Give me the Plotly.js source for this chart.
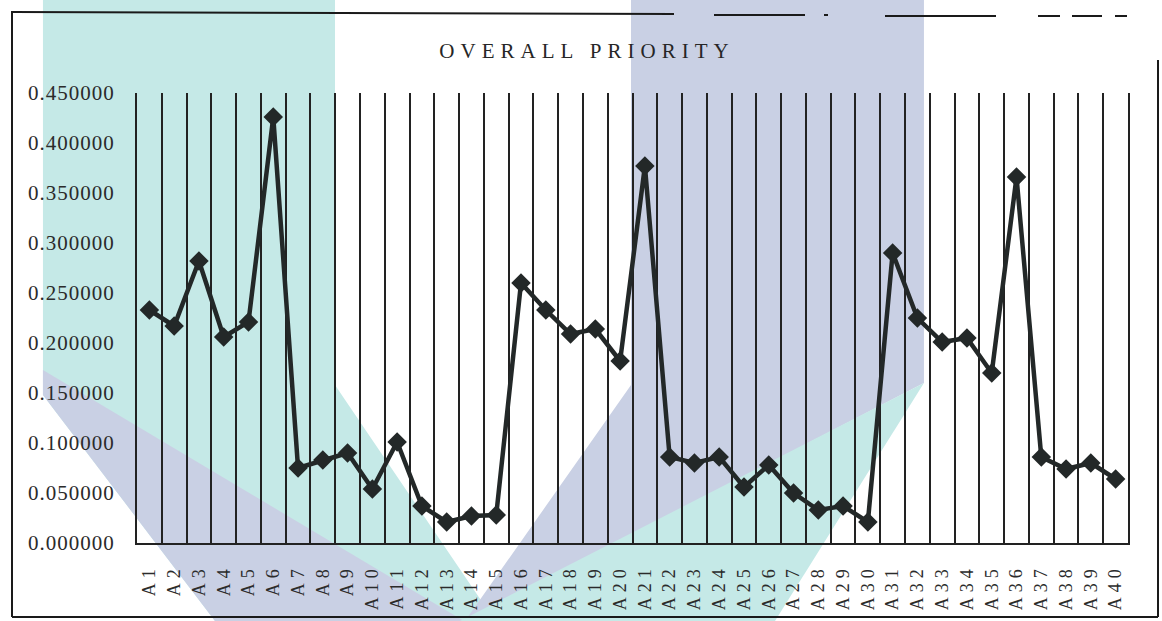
<!DOCTYPE html>
<html>
<head>
<meta charset="utf-8">
<script src="https://cdn.plot.ly/plotly-3.0.1.min.js"></script>
<style>
  html, body { margin: 0; padding: 0; background: #ffffff; }
  #chart { width: 1162px; height: 621px; }
  .xtick text { letter-spacing: 5px; }
  .ytick text { letter-spacing: 1px; }
  .gtitle { letter-spacing: 6px; }
</style>
</head>
<body>
<div id="chart"></div>
<script>
// ---- data ----
const categories = ["A1","A2","A3","A4","A5","A6","A7","A8","A9","A10",
  "A11","A12","A13","A14","A15","A16","A17","A18","A19","A20",
  "A21","A22","A23","A24","A25","A26","A27","A28","A29","A30",
  "A31","A32","A33","A34","A35","A36","A37","A38","A39","A40"];
const overallPriority = [0.233,0.217,0.282,0.206,0.221,0.426,0.075,0.083,0.090,0.054,
  0.101,0.037,0.021,0.027,0.028,0.260,0.233,0.209,0.214,0.182,
  0.377,0.086,0.080,0.086,0.056,0.078,0.050,0.033,0.037,0.021,
  0.290,0.225,0.201,0.205,0.170,0.366,0.086,0.074,0.080,0.064];
const yTickValues = [0,0.05,0.10,0.15,0.20,0.25,0.30,0.35,0.40,0.45];
const chartTitle = "OVERALL PRIORITY";

// ---- layout geometry ----
const W = 1162, H = 621;
const M = {l: 137, r: 34, t: 93, b: 78};
const PW = W - M.l - M.r, PH = H - M.t - M.b;
function px(x) { return (x - M.l) / PW; }
function py(y) { return (H - M.b - y) / PH; }
function poly(points) {
  return points.map((p, i) => (i ? "L" : "M") + px(p[0]).toFixed(4) + "," + py(p[1]).toFixed(4)).join(" ") + " Z";
}
function pathShape(points, color) {
  return {type: "path", xref: "paper", yref: "paper", layer: "below",
          path: poly(points), fillcolor: color, line: {width: 0}};
}
function lineShape(x0, y0, x1, y1, w) {
  return {type: "line", xref: "paper", yref: "paper", layer: "above",
          x0: px(x0), y0: py(y0), x1: px(x1), y1: py(y1),
          line: {color: "#1a1a1a", width: w || 2}};
}
const TEAL = "#c5e9e7", LAV = "#c9d0e4";

const shapes = [
  // faint background watermark of the scanned page
  pathShape([[43,0],[335,0],[335,385],[495,621],[215,621],[43,395]], TEAL),
  pathShape([[43,370],[464,621],[215,621],[43,395]], LAV),
  pathShape([[631,0],[924,0],[924,383],[465,621],[631,385]], LAV),
  pathShape([[924,383],[775,621],[460,621]], TEAL),
  // chart frame (scanned border)
  lineShape(12, 11, 12, 617, 2),
  lineShape(12, 617, 1158, 617, 2),
  lineShape(1158, 60, 1158, 617, 2),
  lineShape(12, 12, 674, 14, 2),
  lineShape(714, 15, 805, 15, 2),
  lineShape(824, 15, 828, 15, 2),
  lineShape(885, 16, 996, 16, 2),
  lineShape(1038, 16, 1060, 16, 2),
  lineShape(1072, 16, 1102, 16, 2),
  lineShape(1115, 16, 1127, 16, 2)
];

const trace = {
  type: "scatter",
  mode: "lines+markers",
  x: categories,
  y: overallPriority,
  line: {color: "#232828", width: 4.5},
  marker: {symbol: "diamond", size: 15, color: "#232828"},
  cliponaxis: false,
  hoverinfo: "x+y"
};

const layout = {
  width: W, height: H,
  margin: M,
  paper_bgcolor: "#ffffff",
  plot_bgcolor: "rgba(0,0,0,0)",
  showlegend: false,
  font: {family: "Liberation Serif, Times New Roman, serif", color: "#2b2b2b"},
  title: {
    text: chartTitle,
    x: 587 / W, xref: "container", xanchor: "center",
    y: 1 - 51 / H, yref: "container", yanchor: "middle",
    font: {family: "Liberation Serif, Times New Roman, serif", size: 21, color: "#262626"}
  },
  xaxis: {
    type: "category",
    range: [-0.5, 39.5],
    tickson: "boundaries",
    showgrid: true,
    gridcolor: "#222222",
    gridwidth: 2,
    showline: true,
    linecolor: "#222222",
    linewidth: 2,
    ticks: "",
    tickangle: -90,
    ticklabelstandoff: 12,
    tickfont: {family: "Liberation Serif, Times New Roman, serif", size: 18, color: "#2b2b2b"},
    zeroline: false,
    fixedrange: true
  },
  yaxis: {
    range: [0, 0.45],
    tickvals: yTickValues,
    tickformat: ".6f",
    showgrid: false,
    zeroline: false,
    showline: true,
    mirror: true,
    linecolor: "#222222",
    linewidth: 2,
    ticks: "",
    ticklabelstandoff: 16,
    tickfont: {family: "Liberation Serif, Times New Roman, serif", size: 21, color: "#2b2b2b"},
    fixedrange: true
  },
  shapes: shapes
};

Plotly.newPlot("chart", [trace], layout, {displayModeBar: false, staticPlot: true});
</script>
</body>
</html>
